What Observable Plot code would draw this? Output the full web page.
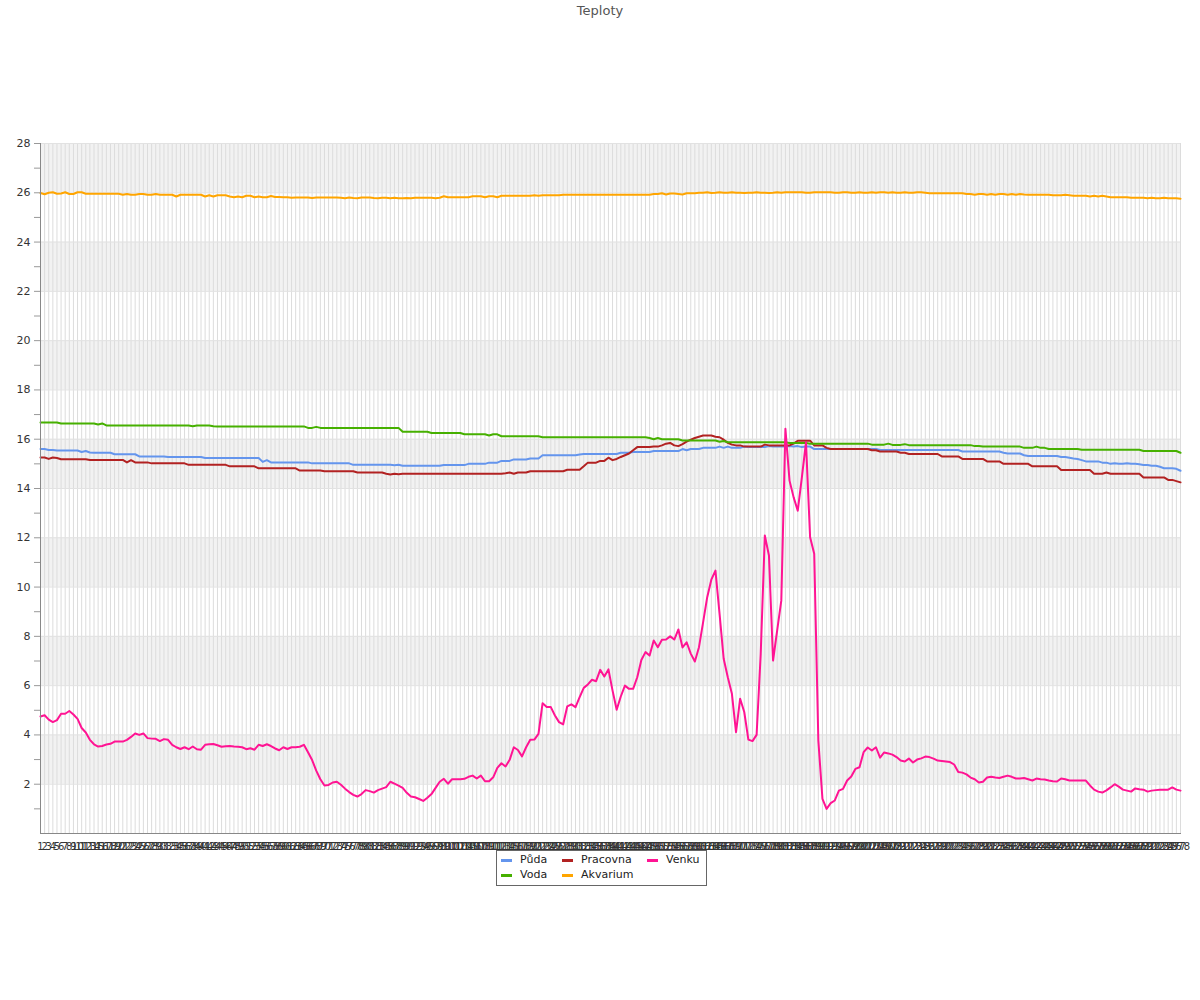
<!DOCTYPE html>
<html><head><meta charset="utf-8">
<script src="https://cdn.jsdelivr.net/npm/d3@7"></script>
<script src="https://cdn.jsdelivr.net/npm/@observablehq/plot@0.6"></script>
<style>
body{margin:0;background:#fff;font-family:"DejaVu Sans",sans-serif;}
#title{height:22px;line-height:22px;text-align:center;font-size:13px;color:#555;}
#chart svg{display:block;}
#legend{position:relative;margin-left:496px;margin-top:-2px;width:211px;height:36px;border:1px solid #666;box-sizing:border-box;background:#fff;}
#legend .sw{position:absolute;width:11px;height:3px;}
#legend .lb{position:absolute;font-size:11px;line-height:14px;color:#222;white-space:nowrap;}
</style>
</head><body>
<div id="title">Teploty</div>
<div id="chart"></div>
<div id="legend"></div>
<script>
const seriesNames = ["Půda","Pracovna","Venku","Voda","Akvarium"];
const seriesColors = ["#6495ed","#b22222","#ff1493","#46b000","#ffa500"];
const xLabels = Array.from({length:278},(_,i)=>String(i+1));
const yTicks = [1,2,3,4,5,6,7,8,9,10,11,12,13,14,15,16,17,18,19,20,21,22,23,24,25,26,27,28];

const puda = [15.6,15.6,15.56,15.56,15.54,15.54,15.54,15.54,15.54,15.54,
15.48,15.52,15.46,15.45,15.45,15.45,15.45,15.45,15.39,15.39,
15.39,15.39,15.39,15.39,15.3,15.3,15.3,15.3,15.3,15.3,
15.3,15.28,15.28,15.28,15.28,15.28,15.28,15.28,15.28,15.28,
15.24,15.24,15.24,15.24,15.24,15.24,15.24,15.24,15.24,15.24,
15.24,15.24,15.24,15.24,15.08,15.15,15.06,15.06,15.06,15.06,
15.06,15.06,15.06,15.06,15.06,15.06,15.02,15.02,15.02,15.02,
15.02,15.02,15.02,15.02,15.02,15.02,14.96,14.96,14.96,14.96,
14.96,14.96,14.96,14.96,14.96,14.96,14.94,14.96,14.92,14.92,
14.92,14.92,14.92,14.92,14.92,14.92,14.92,14.92,14.95,14.95,
14.95,14.95,14.95,14.95,15.0,15.0,15.0,15.0,15.0,15.05,
15.05,15.05,15.12,15.12,15.12,15.18,15.18,15.18,15.18,15.22,
15.22,15.22,15.35,15.35,15.35,15.35,15.35,15.35,15.35,15.35,
15.35,15.38,15.4,15.4,15.4,15.4,15.4,15.4,15.4,15.4,
15.4,15.45,15.45,15.45,15.48,15.48,15.48,15.48,15.48,15.52,
15.52,15.52,15.52,15.52,15.52,15.52,15.6,15.55,15.6,15.6,
15.6,15.65,15.65,15.65,15.65,15.7,15.65,15.7,15.65,15.65,
15.65,15.7,15.68,15.68,15.68,15.68,15.68,15.72,15.7,15.7,
15.7,15.7,15.72,15.7,15.72,15.68,15.7,15.7,15.6,15.6,
15.6,15.6,15.6,15.6,15.6,15.6,15.6,15.6,15.6,15.6,
15.6,15.6,15.6,15.6,15.56,15.56,15.56,15.56,15.56,15.56,
15.56,15.56,15.56,15.56,15.56,15.56,15.56,15.56,15.56,15.56,
15.56,15.56,15.56,15.56,15.5,15.5,15.5,15.5,15.5,15.5,
15.5,15.5,15.5,15.5,15.45,15.42,15.42,15.42,15.42,15.35,
15.32,15.32,15.32,15.32,15.32,15.32,15.32,15.32,15.28,15.28,
15.25,15.22,15.2,15.15,15.1,15.1,15.1,15.1,15.05,15.05,
15.0,15.02,15.0,15.0,15.02,15.0,15.0,14.98,14.95,14.95,
14.92,14.92,14.88,14.82,14.82,14.82,14.8,14.72];

const pracovna = [15.26,15.26,15.2,15.26,15.24,15.19,15.19,15.19,15.19,15.19,
15.19,15.19,15.16,15.16,15.16,15.16,15.16,15.16,15.16,15.16,
15.16,15.06,15.15,15.06,15.06,15.06,15.06,15.02,15.02,15.02,
15.02,15.02,15.02,15.02,15.02,15.02,14.96,14.96,14.96,14.96,
14.96,14.96,14.96,14.96,14.96,14.96,14.9,14.9,14.9,14.9,
14.9,14.9,14.9,14.82,14.82,14.82,14.82,14.82,14.82,14.82,
14.82,14.82,14.82,14.73,14.73,14.73,14.73,14.73,14.73,14.7,
14.7,14.7,14.7,14.7,14.7,14.7,14.7,14.65,14.65,14.65,
14.65,14.65,14.65,14.65,14.6,14.57,14.6,14.58,14.6,14.6,
14.6,14.6,14.6,14.6,14.6,14.6,14.6,14.6,14.6,14.6,
14.6,14.6,14.6,14.6,14.6,14.6,14.6,14.6,14.6,14.6,
14.6,14.6,14.6,14.62,14.65,14.6,14.65,14.65,14.65,14.7,
14.7,14.7,14.7,14.7,14.7,14.7,14.7,14.7,14.76,14.76,
14.76,14.76,14.9,15.05,15.05,15.05,15.12,15.12,15.25,15.15,
15.2,15.28,15.35,15.42,15.55,15.68,15.68,15.68,15.68,15.7,
15.7,15.75,15.82,15.85,15.75,15.72,15.8,15.9,15.98,16.05,
16.1,16.15,16.15,16.15,16.1,16.08,15.98,15.85,15.78,15.75,
15.75,15.7,15.7,15.7,15.7,15.7,15.78,15.75,15.75,15.75,
15.75,15.75,15.75,15.82,15.94,15.94,15.94,15.94,15.75,15.75,
15.75,15.65,15.6,15.6,15.6,15.6,15.6,15.6,15.6,15.6,
15.6,15.6,15.55,15.55,15.5,15.5,15.5,15.5,15.5,15.45,
15.45,15.4,15.4,15.4,15.4,15.4,15.4,15.4,15.4,15.3,
15.3,15.3,15.3,15.3,15.2,15.2,15.2,15.2,15.2,15.2,
15.1,15.1,15.1,15.1,15.0,15.0,15.0,15.0,15.0,15.0,
15.0,14.9,14.9,14.9,14.9,14.9,14.9,14.9,14.75,14.75,
14.75,14.75,14.75,14.75,14.75,14.75,14.6,14.6,14.6,14.65,
14.6,14.6,14.6,14.6,14.6,14.6,14.6,14.6,14.45,14.45,
14.45,14.45,14.45,14.45,14.35,14.35,14.3,14.25];

const venku = [4.75,4.8,4.62,4.52,4.6,4.86,4.86,4.97,4.83,4.65,
4.28,4.1,3.8,3.62,3.53,3.55,3.61,3.64,3.73,3.73,
3.73,3.8,3.92,4.06,4.0,4.06,3.87,3.85,3.84,3.75,
3.83,3.8,3.6,3.5,3.43,3.5,3.42,3.53,3.42,3.4,
3.6,3.62,3.63,3.58,3.52,3.54,3.55,3.53,3.52,3.5,
3.42,3.46,3.4,3.6,3.55,3.62,3.55,3.45,3.38,3.5,
3.43,3.5,3.5,3.52,3.6,3.3,2.98,2.55,2.2,1.95,
1.97,2.07,2.1,1.98,1.82,1.68,1.57,1.5,1.6,1.76,
1.72,1.66,1.76,1.82,1.88,2.1,2.02,1.94,1.85,1.65,
1.5,1.47,1.4,1.32,1.45,1.6,1.85,2.1,2.22,2.02,
2.2,2.2,2.2,2.22,2.3,2.35,2.23,2.35,2.12,2.12,
2.28,2.66,2.85,2.72,2.99,3.5,3.39,3.13,3.5,3.8,
3.81,4.04,5.29,5.13,5.13,4.79,4.52,4.43,5.16,5.24,
5.13,5.53,5.91,6.05,6.24,6.18,6.64,6.37,6.66,5.8,
5.02,5.56,6.0,5.87,5.87,6.34,7.04,7.36,7.22,7.83,
7.56,7.86,7.87,8.0,7.87,8.28,7.55,7.76,7.3,6.98,
7.56,8.57,9.59,10.3,10.67,8.91,7.09,6.34,5.67,4.11,
5.47,4.93,3.81,3.75,4.0,7.29,12.09,11.28,7.02,8.24,
9.45,16.42,14.32,13.64,13.1,14.45,15.87,12.02,11.35,3.77,
1.41,1.0,1.23,1.34,1.74,1.81,2.15,2.31,2.62,2.69,
3.3,3.49,3.37,3.5,3.08,3.29,3.25,3.2,3.1,2.96,
2.92,3.04,2.88,3.0,3.05,3.12,3.1,3.04,2.96,2.94,
2.92,2.9,2.8,2.5,2.47,2.4,2.27,2.2,2.07,2.1,
2.27,2.3,2.27,2.25,2.3,2.35,2.3,2.23,2.23,2.25,
2.2,2.15,2.23,2.2,2.19,2.15,2.12,2.11,2.23,2.2,
2.15,2.15,2.15,2.15,2.15,1.95,1.78,1.7,1.66,1.75,
1.87,2.0,1.9,1.78,1.74,1.7,1.83,1.8,1.78,1.7,
1.74,1.76,1.78,1.78,1.78,1.87,1.78,1.74];

const voda = [16.68,16.68,16.68,16.68,16.68,16.64,16.64,16.64,16.64,16.64,
16.64,16.64,16.64,16.64,16.6,16.64,16.56,16.56,16.56,16.56,
16.56,16.56,16.56,16.56,16.56,16.56,16.56,16.56,16.56,16.56,
16.56,16.56,16.56,16.56,16.56,16.56,16.56,16.53,16.56,16.56,
16.56,16.56,16.53,16.52,16.52,16.52,16.52,16.52,16.52,16.52,
16.52,16.52,16.52,16.52,16.52,16.52,16.52,16.52,16.52,16.52,
16.52,16.52,16.52,16.52,16.52,16.46,16.46,16.5,16.46,16.46,
16.46,16.46,16.46,16.46,16.46,16.46,16.46,16.46,16.46,16.46,
16.46,16.46,16.46,16.46,16.46,16.46,16.46,16.46,16.3,16.3,
16.3,16.3,16.3,16.3,16.3,16.25,16.25,16.25,16.25,16.25,
16.25,16.25,16.25,16.2,16.2,16.2,16.2,16.2,16.2,16.15,
16.2,16.2,16.12,16.12,16.12,16.12,16.12,16.12,16.12,16.12,
16.12,16.12,16.08,16.08,16.08,16.08,16.08,16.08,16.08,16.08,
16.08,16.08,16.08,16.08,16.08,16.08,16.08,16.08,16.08,16.08,
16.08,16.08,16.08,16.08,16.08,16.08,16.08,16.08,16.05,16.0,
16.05,16.0,16.0,16.0,16.0,16.0,15.95,15.95,15.95,15.95,
15.95,15.95,15.95,15.95,15.95,15.9,15.93,15.88,15.88,15.88,
15.88,15.88,15.88,15.88,15.88,15.88,15.88,15.88,15.88,15.88,
15.88,15.88,15.85,15.85,15.85,15.85,15.85,15.82,15.82,15.82,
15.82,15.82,15.82,15.82,15.82,15.82,15.82,15.82,15.82,15.82,
15.82,15.82,15.78,15.78,15.78,15.78,15.82,15.77,15.77,15.77,
15.8,15.76,15.76,15.76,15.76,15.76,15.76,15.76,15.76,15.76,
15.76,15.76,15.76,15.76,15.76,15.76,15.76,15.72,15.72,15.7,
15.7,15.7,15.7,15.7,15.7,15.7,15.7,15.7,15.7,15.65,
15.65,15.65,15.7,15.65,15.65,15.6,15.6,15.6,15.6,15.6,
15.6,15.6,15.6,15.57,15.57,15.57,15.57,15.57,15.57,15.57,
15.57,15.57,15.57,15.57,15.57,15.57,15.57,15.57,15.52,15.52,
15.52,15.52,15.52,15.52,15.52,15.52,15.52,15.45];

const akvarium = [25.99,25.94,26.0,26.02,25.96,25.97,26.02,25.95,25.95,26.02,
26.02,25.96,25.96,25.96,25.96,25.96,25.96,25.96,25.96,25.96,
25.92,25.95,25.92,25.92,25.95,25.95,25.92,25.92,25.95,25.92,
25.92,25.92,25.92,25.85,25.92,25.92,25.92,25.92,25.92,25.92,
25.85,25.9,25.85,25.9,25.9,25.9,25.85,25.82,25.85,25.82,
25.88,25.88,25.82,25.85,25.82,25.82,25.87,25.83,25.83,25.82,
25.82,25.8,25.81,25.81,25.81,25.81,25.79,25.81,25.81,25.81,
25.81,25.81,25.81,25.8,25.78,25.81,25.79,25.78,25.81,25.81,
25.81,25.79,25.78,25.8,25.8,25.78,25.8,25.78,25.78,25.79,
25.78,25.8,25.8,25.8,25.8,25.8,25.78,25.8,25.86,25.82,
25.82,25.82,25.82,25.82,25.82,25.86,25.86,25.86,25.82,25.86,
25.86,25.82,25.88,25.88,25.88,25.88,25.88,25.88,25.88,25.88,
25.9,25.88,25.9,25.9,25.9,25.9,25.9,25.92,25.92,25.92,
25.92,25.92,25.92,25.92,25.92,25.92,25.92,25.92,25.92,25.92,
25.92,25.92,25.92,25.92,25.92,25.92,25.92,25.92,25.92,25.95,
25.95,25.98,25.93,25.97,25.97,25.95,25.93,25.98,25.98,25.98,
26.0,26.0,26.02,25.99,26.0,26.02,26.0,26.0,26.02,26.0,
26.0,25.99,26.0,26.0,26.02,26.0,26.0,25.99,26.0,26.02,
26.0,26.02,26.02,26.02,26.02,26.02,26.0,26.0,26.02,26.02,
26.02,26.02,26.02,26.0,26.0,26.02,26.02,26.0,26.0,26.02,
26.0,26.0,26.02,26.0,26.02,26.02,26.0,26.02,26.0,26.0,
26.02,26.0,26.0,26.02,26.02,26.0,25.98,25.98,25.98,25.98,
25.98,25.98,25.98,25.98,25.98,25.95,25.95,25.92,25.95,25.95,
25.92,25.95,25.92,25.95,25.95,25.92,25.95,25.92,25.95,25.93,
25.92,25.92,25.92,25.92,25.92,25.92,25.9,25.9,25.9,25.92,
25.9,25.88,25.88,25.88,25.88,25.85,25.88,25.85,25.88,25.85,
25.82,25.82,25.82,25.82,25.82,25.8,25.8,25.8,25.8,25.78,
25.8,25.78,25.78,25.8,25.78,25.78,25.78,25.76];

const seriesValues = [puda, pracovna, venku, voda, akvarium];

// grid helpers derived from ticks
const evenTicks = yTicks.filter(d => d % 2 === 0);
const bands = evenTicks.filter(d => d % 4 === 0).map(d => [d - 2, d]);

const drawOrder = [0, 1, 3, 4, 2];
const lineMarks = drawOrder.map(k =>
  Plot.line(seriesValues[k], {x: xLabels, y: d => d, stroke: seriesColors[k], strokeWidth: 2})
);

const chart = Plot.plot({
  width: 1200,
  height: 830,
  marginTop: 121,
  marginBottom: 19,
  marginLeft: 40,
  marginRight: 20,
  style: {fontFamily: "DejaVu Sans, sans-serif", background: "#fff"},
  x: {type: "point", domain: xLabels, padding: 0, axis: null},
  y: {domain: [0, 28], axis: null},
  marks: [
    Plot.rect(bands, {y1: d => d[0], y2: d => d[1], fill: "#f2f2f2"}),
    Plot.ruleX(xLabels, {x: d => d, stroke: "#dcdcdc", strokeWidth: 1}),
    Plot.ruleY(evenTicks, {y: d => d, stroke: "#e2e2e2", strokeWidth: 1}),
    ...lineMarks,
    Plot.frame({anchor: "left", stroke: "#888"}),
    Plot.frame({anchor: "bottom", stroke: "#888"}),
    Plot.axisY({ticks: yTicks, tickFormat: d => d % 2 === 0 ? String(d) : "", tickSize: 6, tickPadding: 4, fontSize: 11, stroke: "#999", fill: "#333"}),
    Plot.axisX({ticks: xLabels, tickSize: 0, tickPadding: 9, fontSize: 10, fill: "#333"})
  ]
});
document.getElementById("chart").appendChild(chart);

// legend (column-major, 2 rows)
const legend = document.getElementById("legend");
const colX = [4, 65, 150];
const rowY = [9, 24];
seriesNames.forEach((name, i) => {
  const col = [0, 1, 2, 0, 1][i];
  const row = [0, 0, 0, 1, 1][i];
  const sw = document.createElement("div");
  sw.className = "sw";
  sw.style.left = colX[col] + "px";
  sw.style.top = (rowY[row] - 1.5) + "px";
  sw.style.background = seriesColors[i];
  legend.appendChild(sw);
  const lb = document.createElement("div");
  lb.className = "lb";
  lb.style.left = (colX[col] + 19) + "px";
  lb.style.top = (rowY[row] - 7) + "px";
  lb.textContent = name;
  legend.appendChild(lb);
});
</script>
</body></html>
